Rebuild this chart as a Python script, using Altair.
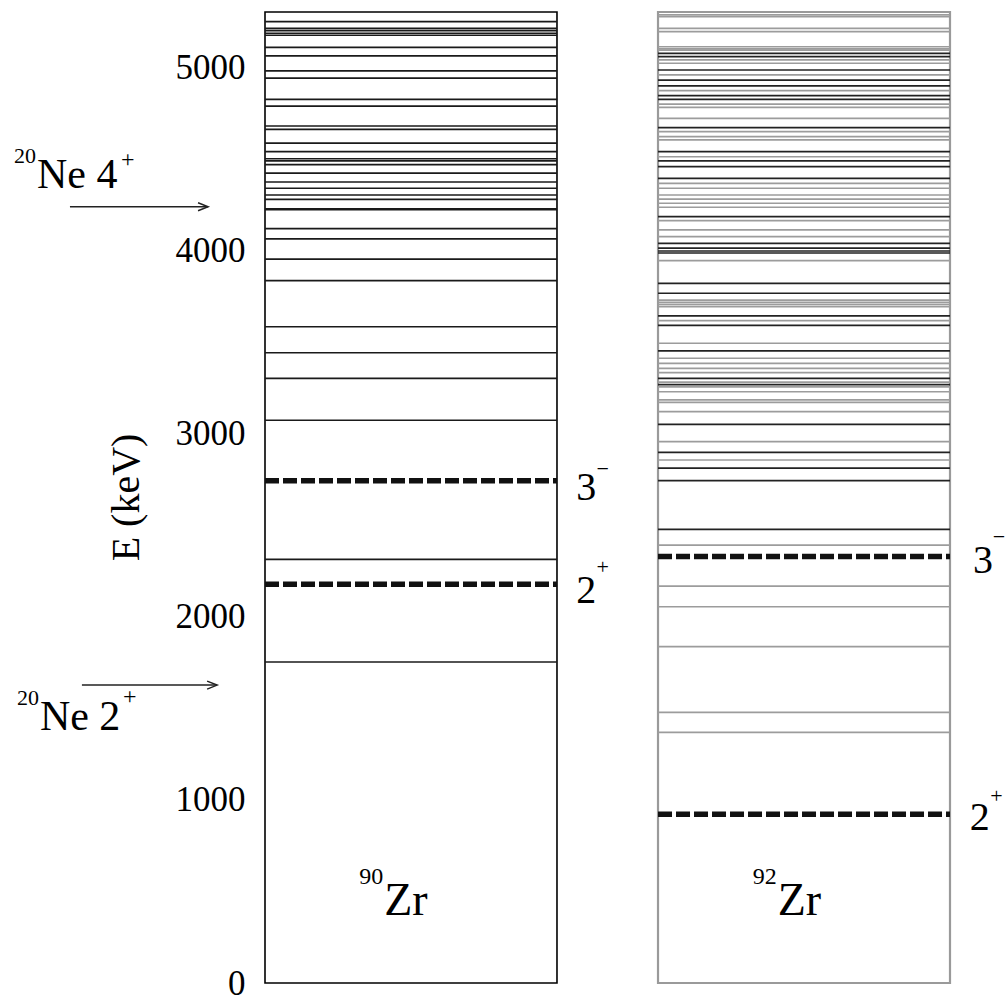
import altair as alt
import pandas as pd

# ---------------- data (keV) ----------------
E_TOP = 5306
y_ticks = [0, 1000, 2000, 3000, 4000, 5000]

# 90Zr levels
zr90_levels = [1754, 2315, 3075, 3304, 3444, 3586, 3838, 3956, 4066, 4122,
               4226, 4231, 4282, 4306, 4343, 4377, 4425, 4472, 4493, 4504,
               4543, 4589, 4665, 4683, 4792, 4829, 4945, 4984, 5066, 5113,
               5179, 5190, 5204, 5217, 5253]
zr90_dashed = [2179, 2745]
zr90_spin = ["2", "3"]
zr90_parity = ["+", "\u2212"]

# 92Zr levels: dark and gray lines
zr92_dark = [2479, 2745, 2813, 2900, 3053, 3270, 3304, 3454, 3594, 3645,
             3769, 3823, 3989, 4000, 4016, 4042, 4188, 4397, 4461, 4493,
             4543, 4674, 4829, 4849, 4902, 4934, 4989, 5062, 5080]
zr92_gray = [1370, 1479, 1838, 2056, 2169, 2393, 2858, 2958, 3122, 3173,
             3186, 3231, 3257, 3284, 3335, 3359, 3386, 3414, 3496, 3619,
             3696, 3708, 3720, 3732, 3947, 4078, 4115, 4166, 4239, 4261,
             4284, 4306, 4343, 4370, 4515, 4607, 4625, 4652, 4725, 4785,
             4803, 4876, 4962, 5026, 5044, 5098, 5105, 5116, 5199, 5217,
             5280, 5290]
zr92_dashed = [922, 2330]
zr92_spin = ["2", "3"]
zr92_parity = ["+", "\u2212"]

# 20Ne projectile states (arrows)
ne_energy = [1628, 4242]
ne_spin = ["2", "4"]

nuclei = ["Zr", "Zr"]
nuclei_mass = ["90", "92"]

# ---------------- layout constants ----------------
BOX_L = (0.0, 1.0)
BOX_R = (1.346, 2.346)
FONT = "Liberation Serif, Times New Roman, serif"

xscale = alt.Scale(domain=[0, 2.346], nice=False, zero=False)
yscale = alt.Scale(domain=[0, E_TOP], nice=False, zero=True)
yaxis = alt.Axis(values=y_ticks, format="d", labelFont=FONT, labelFontSize=35,
                 labelColor="black", labelPadding=20, ticks=False, domain=False, grid=False,
                 title="E (keV)", titleFont=FONT, titleFontSize=40, titleFontWeight="normal",
                 titleColor="black", titleX=-139, titleY=485, titleAngle=270,
                 titleAlign="center", titleBaseline="middle")


def X(f):
    return alt.X(f, type="quantitative", scale=xscale, axis=None)


def X2(f):
    return alt.X2(f)


def Y(f="E"):
    return alt.Y(f, type="quantitative", scale=yscale, axis=yaxis)


# ---------------- tables ----------------
boxes = pd.DataFrame({"x0": [BOX_L[0], BOX_R[0]], "x1": [BOX_L[1], BOX_R[1]],
                      "E": [E_TOP, E_TOP], "E0": [0, 0], "side": ["L", "R"]})

lev_rows = []
for e in zr90_levels:
    lev_rows.append({"E": e, "x0": BOX_L[0], "x1": BOX_L[1], "tone": "black"})
for e in zr92_gray:
    lev_rows.append({"E": e, "x0": BOX_R[0], "x1": BOX_R[1], "tone": "gray"})
for e in zr92_dark:
    lev_rows.append({"E": e, "x0": BOX_R[0], "x1": BOX_R[1], "tone": "dark"})
levels = pd.DataFrame(lev_rows)

dash_rows = []
for e in zr90_dashed:
    dash_rows.append({"E": e, "x0": BOX_L[0], "x1": BOX_L[1]})
for e in zr92_dashed:
    dash_rows.append({"E": e, "x0": BOX_R[0], "x1": BOX_R[1]})
dashed = pd.DataFrame(dash_rows)

# ---------------- layers ----------------
box_l = alt.Chart(boxes[boxes.side == "L"]).mark_rect(
    fill="white", fillOpacity=0, stroke="black", strokeWidth=1.6
).encode(x=X("x0"), x2=X2("x1"), y=Y("E"), y2=alt.Y2("E0"))

box_r = alt.Chart(boxes[boxes.side == "R"]).mark_rect(
    fill="white", fillOpacity=0, stroke="#9a9a9a", strokeWidth=2.2
).encode(x=X("x0"), x2=X2("x1"), y=Y("E"), y2=alt.Y2("E0"))

level_lines = alt.Chart(levels).mark_rule(strokeWidth=1.7).encode(
    x=X("x0"), x2=X2("x1"), y=Y("E"),
    color=alt.Color("tone:N", scale=alt.Scale(domain=["black", "dark", "gray"],
                                              range=["#1a1a1a", "#222222", "#9c9c9c"]),
                    legend=None)
)

dashed_lines = alt.Chart(dashed).mark_rule(
    strokeWidth=5.5, strokeDash=[14, 4], color="#111111", strokeCap="butt"
).encode(x=X("x0"), x2=X2("x1"), y=Y("E"))

# spin labels
spin_df = pd.DataFrame({
    "x": [1.066, 1.066, 2.414, 2.425],
    "E": [zr90_dashed[0] - 105, zr90_dashed[1] - 105, zr92_dashed[0] - 86, zr92_dashed[1] - 90],
    "t": zr90_spin + zr92_spin,
})
sign_df = pd.DataFrame({
    "x": [1.135, 1.135, 2.484, 2.492],
    "E": [zr90_dashed[0] + 95, zr90_dashed[1] + 65, zr92_dashed[0] + 98, zr92_dashed[1] + 106],
    "t": zr90_parity + zr92_parity,
})
spin_text = alt.Chart(spin_df).mark_text(
    font=FONT, fontSize=40, align="left", baseline="alphabetic", color="black"
).encode(x=X("x"), y=Y("E"), text="t:N")
sign_text = alt.Chart(sign_df).mark_text(
    font=FONT, fontSize=22, align="left", baseline="middle", color="black"
).encode(x=X("x"), y=Y("E"), text="t:N")

# nucleus labels
zr_df = pd.DataFrame({"x": [BOX_L[0] + 0.408, BOX_R[0] + 0.41], "E": [372, 372], "t": nuclei})
zr_mass_df = pd.DataFrame({"x": [BOX_L[0] + 0.405, BOX_R[0] + 0.407], "E": [540, 540], "t": nuclei_mass})
zr_text = alt.Chart(zr_df).mark_text(
    font=FONT, fontSize=46, align="left", baseline="alphabetic", color="black"
).encode(x=X("x"), y=Y("E"), text="t:N")
zr_mass = alt.Chart(zr_mass_df).mark_text(
    font=FONT, fontSize=24, align="right", baseline="alphabetic", color="black"
).encode(x=X("x"), y=Y("E"), text="t:N")

# 20Ne arrows and labels
arrow_df = pd.DataFrame({"E": ne_energy, "x0": [-0.627, -0.668], "x1": [-0.164, -0.195]})
arrow_line = alt.Chart(arrow_df).mark_rule(strokeWidth=1.5, color="#222222").encode(
    x=X("x0"), x2=X2("x1"), y=Y("E"))
arrow_head = alt.Chart(arrow_df).mark_point(
    shape="M -2 -0.8 L 0 0 L -2 0.8", filled=False, size=100, strokeWidth=1.5,
    color="#222222", opacity=1
).encode(x=X("x1"), y=Y("E"))

ne_main_df = pd.DataFrame({"x": [-0.771, -0.781], "E": [1383, 4344],
                           "t": ["Ne " + s for s in ne_spin]})
ne_mass_df = pd.DataFrame({"x": [-0.774, -0.784], "E": [1519, 4481], "t": ["20", "20"]})
ne_sign_df = pd.DataFrame({"x": [-0.486, -0.493], "E": [1563, 4497], "t": ["+", "+"]})
ne_main = alt.Chart(ne_main_df).mark_text(
    font=FONT, fontSize=42, align="left", baseline="alphabetic", color="black"
).encode(x=X("x"), y=Y("E"), text="t:N")
ne_mass = alt.Chart(ne_mass_df).mark_text(
    font=FONT, fontSize=22, align="right", baseline="alphabetic", color="black"
).encode(x=X("x"), y=Y("E"), text="t:N")
ne_sign = alt.Chart(ne_sign_df).mark_text(
    font=FONT, fontSize=24, align="left", baseline="middle", color="black"
).encode(x=X("x"), y=Y("E"), text="t:N")

chart = alt.layer(
    box_l, box_r, level_lines, dashed_lines, spin_text, sign_text, zr_text, zr_mass,
    arrow_line, arrow_head, ne_main, ne_mass, ne_sign
).properties(
    width=685, height=971,
    autosize=alt.AutoSizeParams(type="none"),
    padding={"left": 265, "top": 12, "right": 56, "bottom": 18},
    background="white",
).configure_view(strokeWidth=0)

chart.save("out.html", embed_options={"renderer": "svg", "actions": False})
